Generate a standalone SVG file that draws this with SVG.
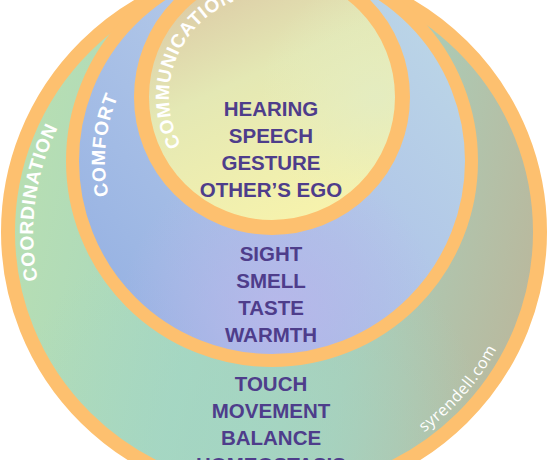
<svg xmlns="http://www.w3.org/2000/svg" width="547" height="460" viewBox="0 0 547 460">
  <style>
    .ring { stroke: #fdc06f; }
    .sense { font-family: "Liberation Sans", Arial, sans-serif; font-weight: bold; font-size: 20.5px; fill: #4e3d8b; text-anchor: middle; }
    .label { font-family: "Liberation Sans", Arial, sans-serif; font-weight: bold; font-size: 19px; fill: #ffffff; letter-spacing: 0.8px; }
    .credit { font-family: "Open Sans", "Liberation Sans", sans-serif; font-size: 16px; fill: #ffffff; letter-spacing: 0.6px; }
  </style>
  <defs>
    <linearGradient id="gOuter" x1="0" y1="0.3" x2="1" y2="0.5">
      <stop offset="0" stop-color="#b9dfb1"/>
      <stop offset="0.4" stop-color="#a7d7c1"/>
      <stop offset="0.7" stop-color="#aacdb8"/>
      <stop offset="1" stop-color="#b9b99e"/>
    </linearGradient>
    <radialGradient id="gOuterB" cx="0.45" cy="0.9" r="0.45">
      <stop offset="0" stop-color="#a3d6c4" stop-opacity="0.8"/>
      <stop offset="1" stop-color="#a3d6c4" stop-opacity="0"/>
    </radialGradient>
    <linearGradient id="gMid" x1="1" y1="0" x2="0" y2="0.9">
      <stop offset="0" stop-color="#bfdbe6"/>
      <stop offset="0.45" stop-color="#b1c7e8"/>
      <stop offset="1" stop-color="#93afe2"/>
    </linearGradient>
    <radialGradient id="gMidB" cx="0.52" cy="0.88" r="0.4">
      <stop offset="0" stop-color="#b9b7ea" stop-opacity="0.9"/>
      <stop offset="1" stop-color="#b9b7ea" stop-opacity="0"/>
    </radialGradient>
    <linearGradient id="gIn" x1="0.15" y1="0" x2="0.6" y2="1">
      <stop offset="0" stop-color="#dac3a2"/>
      <stop offset="0.45" stop-color="#e4e8b4"/>
      <stop offset="1" stop-color="#f7f3ac"/>
    </linearGradient>
    <radialGradient id="gInR" cx="0.9" cy="0.5" r="0.45">
      <stop offset="0" stop-color="#e2ecc4" stop-opacity="0.8"/>
      <stop offset="1" stop-color="#e2ecc4" stop-opacity="0"/>
    </radialGradient>
    <path id="pComm" d="M181.1,145.4 A103,103 0 0 1 323.5,7.8"/>
    <path id="pComf" d="M108.6,195.7 A167,167 0 0 1 164.7,33.1"/>
    <path id="pCoord" d="M37.9,280.1 A241,239 0 0 1 120.4,48.9"/>
    <path id="pCredit" d="M424,432.5 A252,250 0 0 0 517.5,296.7"/>
  </defs>

  <g id="coordination">
    <ellipse cx="274" cy="232" rx="266" ry="263" fill="url(#gOuter)"/>
    <ellipse cx="274" cy="232" rx="266" ry="263" fill="url(#gOuterB)"/>
    <ellipse class="ring" cx="274" cy="232" rx="266" ry="263" fill="none" stroke-width="14"/>
    <text class="label"><textPath href="#pCoord">COORDINATION</textPath></text>
    <text class="sense" x="271" y="391">TOUCH</text>
    <text class="sense" x="271" y="418">MOVEMENT</text>
    <text class="sense" x="271" y="445">BALANCE</text>
    <text class="sense" x="271" y="472">HOMEOSTASIS</text>
    <text class="credit"><textPath href="#pCredit">syrendell.com</textPath></text>
  </g>

  <g id="comfort">
    <circle cx="272" cy="161" r="199.5" fill="url(#gMid)"/>
    <circle cx="272" cy="161" r="199.5" fill="url(#gMidB)"/>
    <circle class="ring" cx="272" cy="161" r="199.5" fill="none" stroke-width="13"/>
    <text class="label"><textPath href="#pComf">COMFORT</textPath></text>
    <text class="sense" x="271" y="261">SIGHT</text>
    <text class="sense" x="271" y="288">SMELL</text>
    <text class="sense" x="271" y="315">TASTE</text>
    <text class="sense" x="271" y="342">WARMTH</text>
  </g>

  <g id="communication">
    <circle cx="272" cy="97" r="130.5" fill="url(#gIn)"/>
    <circle cx="272" cy="97" r="130.5" fill="url(#gInR)"/>
    <circle class="ring" cx="272" cy="97" r="130.5" fill="none" stroke-width="15"/>
    <text class="label"><textPath href="#pComm">COMMUNICATION</textPath></text>
    <text class="sense" x="271" y="116">HEARING</text>
    <text class="sense" x="271" y="143">SPEECH</text>
    <text class="sense" x="271" y="170">GESTURE</text>
    <text class="sense" x="271" y="197">OTHER’S EGO</text>
  </g>
</svg>
